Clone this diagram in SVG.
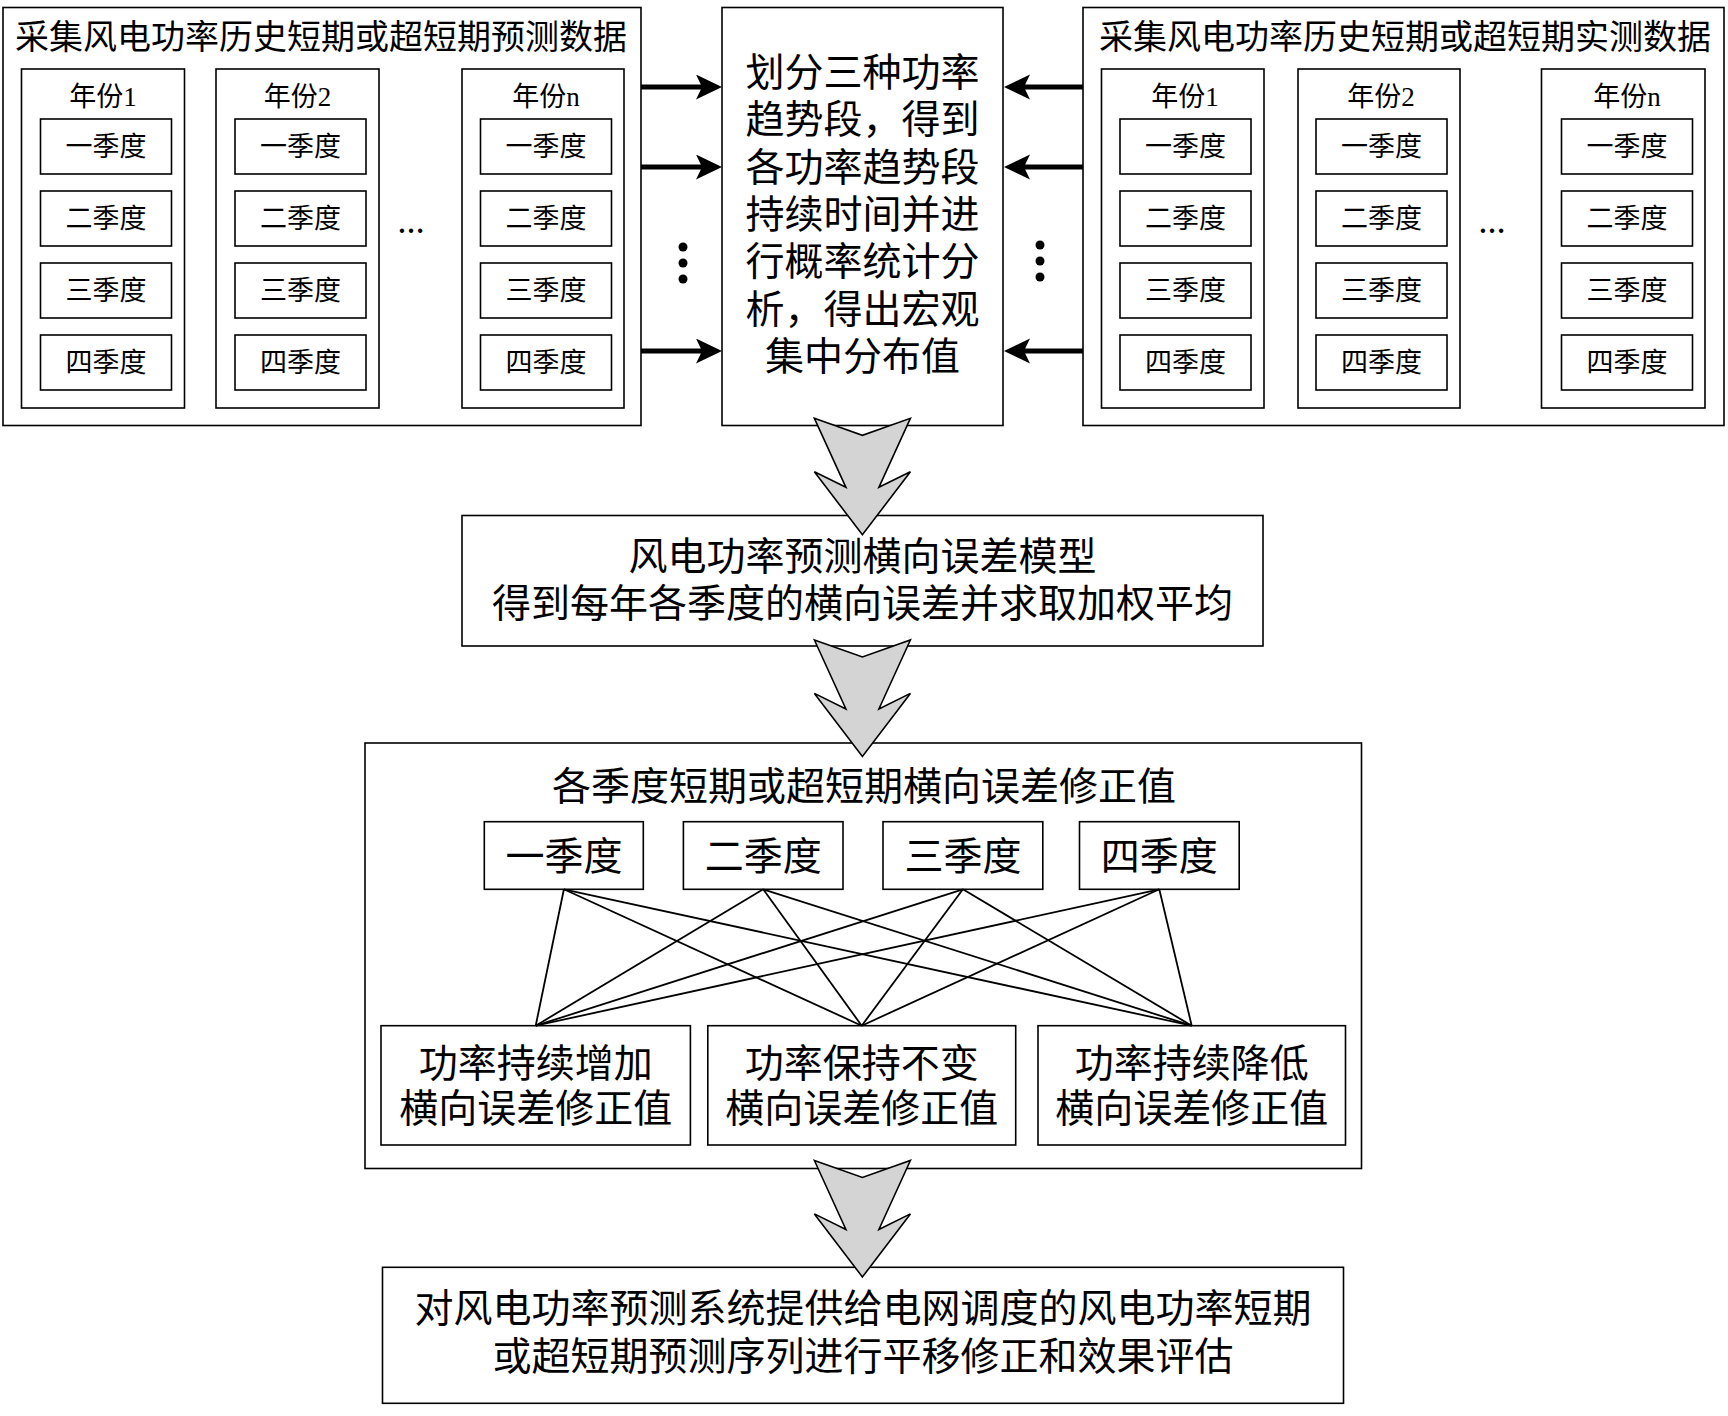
<svg xmlns="http://www.w3.org/2000/svg" xmlns:xlink="http://www.w3.org/1999/xlink" width="1728" height="1416" viewBox="0 0 1728 1416">
<style>
.box{fill:#fff;stroke:#000;stroke-width:1.6}
.t{font-family:"Liberation Serif","Noto Sans CJK SC",serif;fill:#000;text-anchor:middle;dominant-baseline:central}
.big{font-size:39px}
.ttl{font-size:34px}
.sm{font-size:27px}
.dots{font-weight:bold}
.arr{stroke:#000;stroke-width:5;fill:none;marker-end:url(#ah)}
.ln{stroke:#000;stroke-width:1.8;fill:none}
.hollow{fill:#d4d4d4;stroke:#000;stroke-width:1.6;stroke-linejoin:miter}
</style>
<defs>
<marker id="ah" markerUnits="userSpaceOnUse" markerWidth="26" markerHeight="26" refX="16" refY="12.5" orient="auto">
<path d="M0,0 L26,12.5 L0,25 L6,12.5 z" fill="#000"/>
</marker>
<path id="hArrow" class="hollow" d="M-48,0 L0,17 L48,0 L16.5,69 L48,53.4 L0,116.5 L-48,53.4 L-16.5,69 Z"/>
<g id="q4">
<rect class="box" x="0" y="0" width="131" height="55"/>
<rect class="box" x="0" y="72" width="131" height="55"/>
<rect class="box" x="0" y="144" width="131" height="55"/>
<rect class="box" x="0" y="216" width="131" height="55"/>
<text class="t sm" x="65.5" y="27.5">一季度</text>
<text class="t sm" x="65.5" y="99.5">二季度</text>
<text class="t sm" x="65.5" y="171.5">三季度</text>
<text class="t sm" x="65.5" y="243.5">四季度</text>
</g>
</defs>
<rect x="0" y="0" width="1728" height="1416" fill="#fff"/>

<g id="forecast-data">
<rect class="box" x="3" y="7.5" width="638" height="418"/>
<text class="t ttl" x="321" y="37">采集风电功率历史短期或超短期预测数据</text>
<g id="f-year1">
<rect class="box" x="21.5" y="69" width="163" height="339"/>
<text class="t sm" x="103" y="97">年份1</text>
<use xlink:href="#q4" x="40.5" y="119"/>
</g>
<g id="f-year2">
<rect class="box" x="216" y="69" width="163" height="339"/>
<text class="t sm" x="297.5" y="97">年份2</text>
<use xlink:href="#q4" x="235" y="119"/>
</g>
<text class="t sm dots" x="411" y="224">…</text>
<g id="f-yearn">
<rect class="box" x="462" y="69" width="162" height="339"/>
<text class="t sm" x="546" y="97">年份n</text>
<use xlink:href="#q4" x="480.5" y="119"/>
</g>
</g>

<g id="measured-data">
<rect class="box" x="1083" y="7.5" width="641" height="418"/>
<text class="t ttl" x="1405" y="37">采集风电功率历史短期或超短期实测数据</text>
<g id="m-year1">
<rect class="box" x="1101.5" y="69" width="162.5" height="339"/>
<text class="t sm" x="1185" y="97">年份1</text>
<use xlink:href="#q4" x="1120" y="119"/>
</g>
<g id="m-year2">
<rect class="box" x="1298" y="69" width="162" height="339"/>
<text class="t sm" x="1381" y="97">年份2</text>
<use xlink:href="#q4" x="1316" y="119"/>
</g>
<text class="t sm dots" x="1492" y="224">…</text>
<g id="m-yearn">
<rect class="box" x="1541.5" y="69" width="163.5" height="339"/>
<text class="t sm" x="1627" y="97">年份n</text>
<use xlink:href="#q4" x="1561.5" y="119"/>
</g>
</g>

<g id="trend-analysis">
<rect class="box" x="722" y="7.5" width="281" height="418"/>
<text class="t big" x="862.5" y="72.5">划分三种功率</text>
<text class="t big" x="862.5" y="119.8">趋势段，得到</text>
<text class="t big" x="862.5" y="167">各功率趋势段</text>
<text class="t big" x="862.5" y="214.3">持续时间并进</text>
<text class="t big" x="862.5" y="261.6">行概率统计分</text>
<text class="t big" x="862.5" y="309">析，得出宏观</text>
<text class="t big" x="862.5" y="356.3">集中分布值</text>
</g>

<g id="error-model">
<rect class="box" x="462" y="515.5" width="801" height="130.5"/>
<text class="t big" x="862.5" y="556.7">风电功率预测横向误差模型</text>
<text class="t big" x="862.5" y="603">得到每年各季度的横向误差并求取加权平均</text>
</g>

<g id="correction-values">
<rect class="box" x="365" y="743" width="996.5" height="425.5"/>
<text class="t big" x="864" y="786.7">各季度短期或超短期横向误差修正值</text>
<g id="cq1"><rect class="box" x="484.3" y="821.7" width="159" height="67.6"/><text class="t big" x="563.9" y="856.7">一季度</text></g>
<g id="cq2"><rect class="box" x="683.4" y="821.7" width="159.6" height="67.6"/><text class="t big" x="763.2" y="856.7">二季度</text></g>
<g id="cq3"><rect class="box" x="883" y="821.7" width="159.8" height="67.6"/><text class="t big" x="962.9" y="856.7">三季度</text></g>
<g id="cq4"><rect class="box" x="1079.5" y="821.7" width="159.7" height="67.6"/><text class="t big" x="1159.3" y="856.7">四季度</text></g>
<g id="inc"><rect class="box" x="381" y="1025.7" width="309.4" height="119.3"/><text class="t big" x="535.7" y="1063">功率持续增加</text><text class="t big" x="535.7" y="1108">横向误差修正值</text></g>
<g id="keep"><rect class="box" x="707.8" y="1025.7" width="307.9" height="119.3"/><text class="t big" x="861.7" y="1063">功率保持不变</text><text class="t big" x="861.7" y="1108">横向误差修正值</text></g>
<g id="dec"><rect class="box" x="1038" y="1025.7" width="307.5" height="119.3"/><text class="t big" x="1191.7" y="1063">功率持续降低</text><text class="t big" x="1191.7" y="1108">横向误差修正值</text></g>
</g>

<g id="final-eval">
<rect class="box" x="382.5" y="1267.3" width="961" height="136"/>
<text class="t big" x="863" y="1308">对风电功率预测系统提供给电网调度的风电功率短期</text>
<text class="t big" x="863" y="1356.7">或超短期预测序列进行平移修正和效果评估</text>
</g>

<g id="connectors">
<line class="arr" x1="641" y1="87" x2="712" y2="87"/>
<line class="arr" x1="641" y1="167" x2="712" y2="167"/>
<line class="arr" x1="641" y1="351" x2="712" y2="351"/>
<line class="arr" x1="1083" y1="87" x2="1014" y2="87"/>
<line class="arr" x1="1083" y1="167" x2="1014" y2="167"/>
<line class="arr" x1="1083" y1="351" x2="1014" y2="351"/>
<circle cx="683" cy="247" r="4.5"/>
<circle cx="683" cy="263" r="4.5"/>
<circle cx="683" cy="279" r="4.5"/>
<circle cx="1040" cy="245" r="4.5"/>
<circle cx="1040" cy="261" r="4.5"/>
<circle cx="1040" cy="277" r="4.5"/>
<use xlink:href="#hArrow" x="862.4" y="418.3"/>
<use xlink:href="#hArrow" x="862.4" y="640"/>
<use xlink:href="#hArrow" x="862.4" y="1160.5"/>
<line class="ln" x1="563.9" y1="889.3" x2="535.7" y2="1025.7"/>
<line class="ln" x1="563.9" y1="889.3" x2="861.7" y2="1025.7"/>
<line class="ln" x1="563.9" y1="889.3" x2="1191.7" y2="1025.7"/>
<line class="ln" x1="763.2" y1="889.3" x2="535.7" y2="1025.7"/>
<line class="ln" x1="763.2" y1="889.3" x2="861.7" y2="1025.7"/>
<line class="ln" x1="763.2" y1="889.3" x2="1191.7" y2="1025.7"/>
<line class="ln" x1="962.9" y1="889.3" x2="535.7" y2="1025.7"/>
<line class="ln" x1="962.9" y1="889.3" x2="861.7" y2="1025.7"/>
<line class="ln" x1="962.9" y1="889.3" x2="1191.7" y2="1025.7"/>
<line class="ln" x1="1159.3" y1="889.3" x2="535.7" y2="1025.7"/>
<line class="ln" x1="1159.3" y1="889.3" x2="861.7" y2="1025.7"/>
<line class="ln" x1="1159.3" y1="889.3" x2="1191.7" y2="1025.7"/>
</g>
</svg>
